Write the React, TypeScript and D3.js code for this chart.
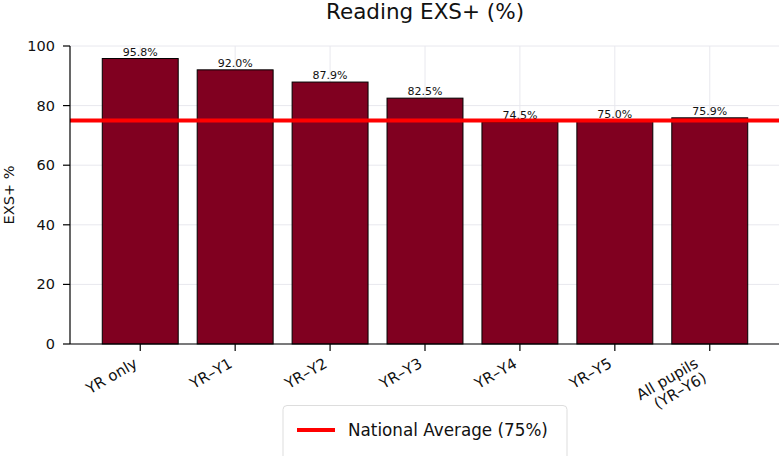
import React, { useEffect, useRef } from 'react';
import * as d3 from 'd3';

const categories: string[][] = [
  ['YR only'],
  ['YR–Y1'],
  ['YR–Y2'],
  ['YR–Y3'],
  ['YR–Y4'],
  ['YR–Y5'],
  ['All pupils', '(YR–Y6)'],
];
const values = [95.8, 92.0, 87.9, 82.5, 74.5, 75.0, 75.9];
const yTicks = [0, 20, 40, 60, 80, 100];
const nationalAverage = 75;
const legendLabel = 'National Average (75%)';

const App: React.FC = () => {
  const svgRef = useRef<SVGSVGElement>(null);

  useEffect(() => {
    if (!svgRef.current) return;
    const svg = d3.select(svgRef.current);
    svg.selectAll('*').remove();

    const width = 779;
    const height = 456;
    const font = 'DejaVu Sans, sans-serif';
    const left = 70;
    const right = 780;
    const top = 46;
    const bottom = 344;
    const tickLen = 7;

    // bars centred on integer positions, with matplotlib-style margins
    const x = d3.scaleLinear().domain([-0.74, 6.74]).range([left, right]);
    const y = d3.scaleLinear().domain([0, 100]).range([bottom, top]);
    const barW = x(0.8) - x(0);

    svg.attr('width', width).attr('height', height)
      .style('font-family', font);

    svg.append('rect').attr('width', width).attr('height', height).attr('fill', 'white');

    // grid
    const grid = svg.append('g').attr('stroke', '#e8e8ee').attr('stroke-width', 1);
    yTicks.forEach(t => {
      grid.append('line').attr('x1', left).attr('x2', right).attr('y1', y(t)).attr('y2', y(t));
    });
    categories.forEach((_, i) => {
      grid.append('line').attr('x1', x(i)).attr('x2', x(i)).attr('y1', top).attr('y2', bottom);
    });

    // bars
    values.forEach((v, i) => {
      svg.append('rect')
        .attr('x', x(i) - barW / 2)
        .attr('y', y(v))
        .attr('width', barW)
        .attr('height', y(0) - y(v))
        .attr('fill', '#800020')
        .attr('stroke', 'black')
        .attr('stroke-width', 1);
    });

    // value labels
    values.forEach((v, i) => {
      svg.append('text')
        .attr('x', x(i))
        .attr('y', y(v) - 3)
        .attr('text-anchor', 'middle')
        .attr('font-size', '11px')
        .attr('fill', '#111')
        .text(`${v.toFixed(1)}%`);
    });

    // national average line
    svg.append('line')
      .attr('x1', left).attr('x2', right)
      .attr('y1', y(nationalAverage)).attr('y2', y(nationalAverage))
      .attr('stroke', '#ff0000')
      .attr('stroke-width', 4);

    // spines
    svg.append('line').attr('x1', left).attr('x2', left).attr('y1', top).attr('y2', bottom)
      .attr('stroke', 'black').attr('stroke-width', 1.2);
    svg.append('line').attr('x1', left).attr('x2', right).attr('y1', bottom).attr('y2', bottom)
      .attr('stroke', 'black').attr('stroke-width', 1.2);

    // y ticks
    yTicks.forEach(t => {
      svg.append('line').attr('x1', left - tickLen).attr('x2', left).attr('y1', y(t)).attr('y2', y(t))
        .attr('stroke', 'black').attr('stroke-width', 1.2);
      svg.append('text')
        .attr('x', left - tickLen - 8)
        .attr('y', y(t))
        .attr('dy', '0.35em')
        .attr('text-anchor', 'end')
        .attr('font-size', '14.5px')
        .attr('fill', '#111')
        .text(t);
    });

    // x ticks
    const fs = 15;
    categories.forEach((lines, i) => {
      svg.append('line').attr('x1', x(i)).attr('x2', x(i)).attr('y1', bottom).attr('y2', bottom + tickLen)
        .attr('stroke', 'black').attr('stroke-width', 1.2);
      const h = lines.length * fs * 1.17;
      const g = svg.append('g')
        .attr('transform', `translate(${x(i) - h * 0.5 + 1},${bottom + 12}) rotate(-30)`);
      const txt = g.append('text')
        .attr('text-anchor', 'end')
        .attr('font-size', `${fs}px`)
        .attr('fill', '#111');
      lines.forEach((l, j) => {
        txt.append('tspan')
          .attr('x', 0)
          .attr('dy', j === 0 ? '0.8em' : '1.1em')
          .text(l);
      });
    });

    // y label
    svg.append('text')
      .attr('transform', `translate(14,${(top + bottom) / 2}) rotate(-90)`)
      .attr('text-anchor', 'middle')
      .attr('font-size', '14.5px')
      .attr('fill', '#111')
      .text('EXS+ %');

    // title
    svg.append('text')
      .attr('x', (left + right) / 2)
      .attr('y', 19)
      .attr('text-anchor', 'middle')
      .attr('font-size', '21.5px')
      .attr('fill', '#111')
      .text('Reading EXS+ (%)');

    // legend
    const lg = svg.append('g');
    lg.append('rect')
      .attr('x', 283).attr('y', 405.5)
      .attr('width', 284).attr('height', 60)
      .attr('rx', 4)
      .attr('fill', 'white')
      .attr('stroke', '#dddddd')
      .attr('stroke-width', 1);
    lg.append('line')
      .attr('x1', 297).attr('x2', 335)
      .attr('y1', 430).attr('y2', 430)
      .attr('stroke', '#ff0000')
      .attr('stroke-width', 4);
    lg.append('text')
      .attr('x', 348)
      .attr('y', 430)
      .attr('dy', '0.35em')
      .attr('font-size', '16.8px')
      .attr('fill', '#111')
      .text(legendLabel);
  }, []);

  return <svg ref={svgRef} width="779" height="456" style={{ display: 'block', position: 'absolute', left: 0, top: 0 }}></svg>;
};

export default App;
